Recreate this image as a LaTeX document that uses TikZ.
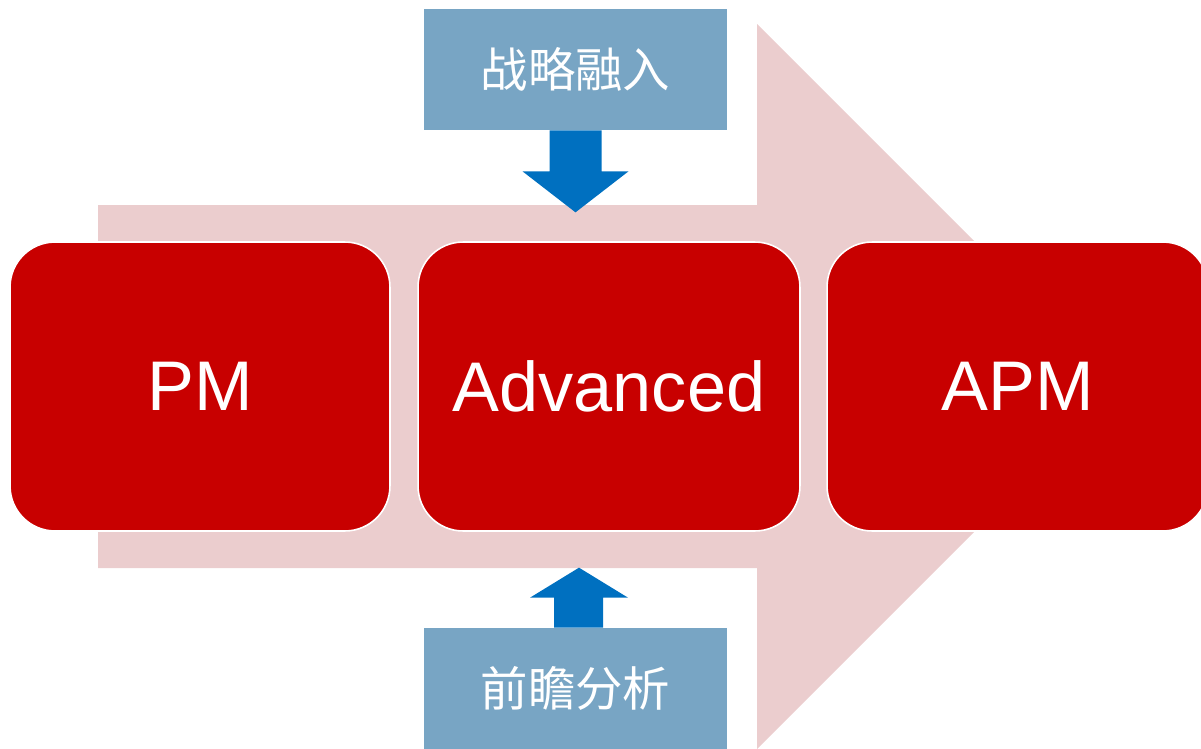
\documentclass[tikz,border=0pt]{standalone}
\usepackage{fontspec}
\setmainfont{Liberation Sans}
\newfontfamily\cjk{Noto Sans CJK SC}
\usepackage{tikz}
\usetikzlibrary{positioning, calc}
\definecolor{flowpink}{RGB}{235, 205, 206}
\definecolor{stagered}{RGB}{200, 0, 0}
\definecolor{inputblue}{RGB}{120, 165, 196}
\definecolor{arrowblue}{RGB}{0, 112, 192}

\begin{document}
\begin{tikzpicture}[
    x=0.02cm, y=-0.02cm,
    stage/.style={draw=white, line width=0.9pt, fill=stagered, rounded corners=0.9cm, minimum width=7.6cm, minimum height=5.78cm, text=white, font=\fontsize{40}{48}\selectfont},
    input/.style={fill=inputblue, minimum width=6.06cm, minimum height=2.42cm, text=white, font=\cjk\fontsize{27}{32}\selectfont},
    block/.style={fill=arrowblue}
]
    \useasboundingbox (0,0) rectangle (1201,748);
    \clip (0,0) rectangle (1201,748);

    % Background arrow
    \fill[flowpink] (98,205) -- (757,205) -- (757,24) -- (1119.5,386.5) -- (757,749) -- (757,568) -- (98,568) -- cycle;

    % Three stages
    \node[stage] (pm) at (200, 386.5) {PM};
    \node[stage, minimum width=7.64cm] (adv) at (609, 386.5) {Advanced};
    \node[stage, minimum width=7.62cm] (apm) at (1017.5, 386.5) {APM};

    % Inputs
    \node[input] (strat) at (575.5, 69.5) {战略融入};
    \node[input] (fore) at (575.5, 688.5) {前瞻分析};

    % Block arrows
    \fill[block] ($(strat.south)+(-26,0)$) -- ++(0,41) -- ++(-27,0) -- ++(53,41) -- ++(53,-41) -- ++(-27,0) -- ++(0,-41) -- cycle;
    \fill[block] ($(fore.north)+(-21.5,0)$) -- ++(0,-30) -- ++(-24,0) -- ++(49,-30) -- ++(49,30) -- ++(-25,0) -- ++(0,30) -- cycle;
\end{tikzpicture}
\end{document}
